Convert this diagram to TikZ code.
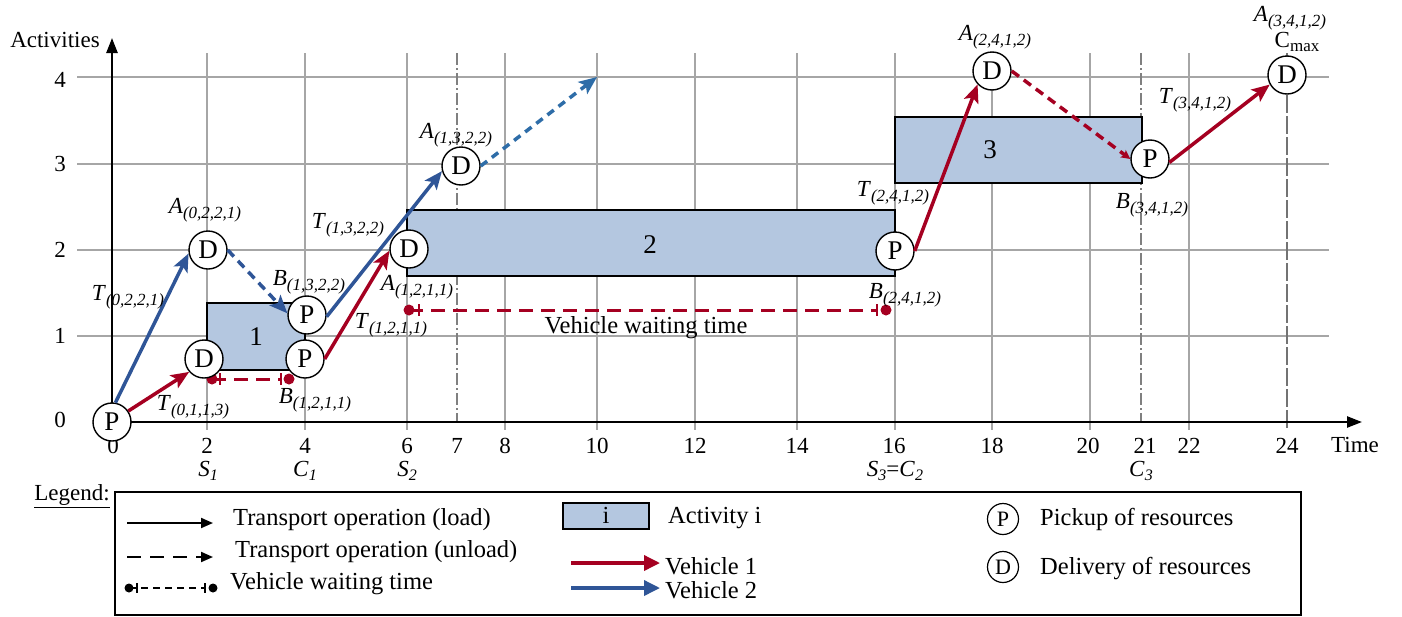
\documentclass[tikz,border=0pt]{standalone}
\usepackage{fontspec}
\setmainfont{Liberation Serif}
\usetikzlibrary{arrows.meta}
\definecolor{vred}{HTML}{A50021}
\definecolor{vblue}{HTML}{2F5597}
\definecolor{lblue}{HTML}{2E6DA8}
\definecolor{boxfill}{HTML}{B4C7E0}
\definecolor{gridgray}{HTML}{A6A6A6}
\newcommand\fs[1]{\fontsize{#1}{#1}\selectfont}
\newcommand\lbl[2]{\textit{#1}\raisebox{-5pt}{\fs{17}\itshape #2}}
\newcommand\sbl[2]{\textit{#1}\raisebox{-4pt}{\fs{16}\itshape #2}}
\begin{document}
\begin{tikzpicture}[x=1pt,y=-1pt,
  gridline/.style={draw=gridgray,line width=1.3pt},
  dashdotline/.style={draw=gray,line width=1.2pt,dash pattern=on 12pt off 3pt on 2pt off 3pt},
  cmaxline/.style={draw=gray!90!black,line width=2pt,dash pattern=on 18pt off 3pt},
  axisline/.style={draw=black,line width=2.4pt,-{Triangle[length=15pt,width=11pt]}},
  actbox/.style={draw=black,line width=1.4pt,fill=boxfill},
  pd/.style={circle,draw=black,line width=1.4pt,fill=white,minimum size=38pt,inner sep=0pt,font=\fs{27}},
  legpd/.style={circle,draw=black,line width=1.2pt,fill=white,minimum size=31pt,inner sep=0pt,font=\fs{22}},
  txt/.style={inner sep=0pt,font=\fs{23}},
  legtxt/.style={inner sep=0pt,font=\fs{24.5},anchor=west},
  redarrow/.style={draw=vred,line width=3.5pt,-{Stealth[length=18pt,width=15pt,inset=4pt]}},
  bluearrow/.style={draw=vblue,line width=3.5pt,-{Stealth[length=18pt,width=15pt,inset=4pt]}},
  bluedash/.style={draw=vblue,line width=3.5pt,dash pattern=on 9pt off 6pt,-{Stealth[length=18pt,width=15pt,inset=4pt]}},
  bluedot/.style={draw=lblue,line width=3.5pt,dash pattern=on 8pt off 6pt,-{Stealth[length=18pt,width=15pt,inset=4pt]}},
  reddash/.style={draw=vred,line width=3.5pt,dash pattern=on 9pt off 6pt,-{Stealth[length=9pt,width=9pt,inset=2pt]}},
  waitdash/.style={draw=vred,line width=3pt,dash pattern=on 14pt off 8pt},
  waitbar/.style={draw=vred,line width=2.5pt},
  legarrow/.style={draw=black,line width=2pt,-{Triangle[length=12pt,width=10pt]}},
  legdash/.style={draw=black,line width=2pt,dash pattern=on 14pt off 9pt,-{Triangle[length=12pt,width=10pt]}},
  legwait/.style={draw=black,line width=1.6pt,dash pattern=on 7pt off 5pt},
  legred/.style={draw=vred,line width=3.5pt,-{Triangle[length=16pt,width=15pt]}},
  legblue/.style={draw=vblue,line width=3.5pt,-{Triangle[length=16pt,width=15pt]}}
]
\useasboundingbox (0,0) rectangle (1402,616);
\fill[white] (0,0) rectangle (1402,616);

% grid
\foreach \x in {207,305,407,505,597,695,797,895,992,1090,1189}
  \draw[gridline] (\x,53) -- (\x,430);
\foreach \y in {77,164,250,336}
  \draw[gridline] (77,\y) -- (1329,\y);
\foreach \x in {457,1141}
  \draw[dashdotline] (\x,53) -- (\x,422);
\draw[cmaxline] (1287,53) -- (1287,430);

% activity boxes
\draw[actbox] (207,303) rectangle (305,370);
\draw[actbox] (407,210) rectangle (895,276);
\draw[actbox] (895,117) rectangle (1142,183);
\node[txt,font=\fs{27}] (n1) at (256,337) {1};
\node[txt,font=\fs{27}] (n2) at (650,245) {2};
\node[txt,font=\fs{27}] (n3) at (990,150) {3};

% axes
\draw[axisline] (112,422) -- (1362,422);
\draw[axisline] (112,432) -- (112,38);
\node[txt] (act) at (55,40) {Activities};
\node[txt] (time) at (1355,445) {Time};
\foreach \v/\y in {0/420,1/336,2/250,3/164,4/80}
  \node[txt] (ty\v) at (60,\y) {\v};
\foreach \t/\x in {0/113,2/207,4/305,6/407,7/457,8/505,10/597,12/695,14/797,16/894,18/992,20/1088,21/1145,22/1189,24/1287}
  \node[txt] (tx\t) at (\x,446) {\t};
\node[txt] (s1) at (208,471) {\sbl{S}{1}};
\node[txt] (c1) at (305,471) {\sbl{C}{1}};
\node[txt] (s2) at (407,471) {\sbl{S}{2}};
\node[txt] (s3) at (895,471) {\sbl{S}{3}=\sbl{C}{2}};
\node[txt] (c3) at (1141,471) {\sbl{C}{3}};

% waiting lines
\coordinate (w1a) at (212,379); \coordinate (w1b) at (289,379);
\draw[waitdash] (w1a) -- ([xshift=-8pt]w1b);
\draw[waitbar] ([xshift=8pt,yshift=6pt]w1a) -- ([xshift=8pt,yshift=-6pt]w1a);
\draw[waitbar] ([xshift=-8pt,yshift=6pt]w1b) -- ([xshift=-8pt,yshift=-6pt]w1b);
\fill[vred] (w1a) circle (5.5pt) (w1b) circle (5.5pt);
\coordinate (w2a) at (409,310); \coordinate (w2b) at (886,310);
\draw[waitdash] (w2a) -- ([xshift=-9pt]w2b);
\draw[waitbar] ([xshift=10pt,yshift=6pt]w2a) -- ([xshift=10pt,yshift=-6pt]w2a);
\draw[waitbar] ([xshift=-9pt,yshift=6pt]w2b) -- ([xshift=-9pt,yshift=-6pt]w2b);
\fill[vred] (w2a) circle (5.5pt) (w2b) circle (5.5pt);
\node[txt,font=\fs{24.5}] (vwt) at (646,328) {Vehicle waiting time};

% P / D nodes
\node[pd] (P0) at (112,422) {P};
\node[pd] (D1) at (204,359) {D};
\node[pd] (P1) at (305,359) {P};
\node[pd] (D2) at (208,250) {D};
\node[pd] (P2) at (307,315) {P};
\node[pd] (D3) at (409,249) {D};
\node[pd] (D4) at (461,166) {D};
\node[pd] (P5) at (895,251) {P};
\node[pd] (D6) at (992,71) {D};
\node[pd] (P7) at (1150,159) {P};
\node[pd] (D8) at (1287,75) {D};
\coordinate (end10) at (597,77);

% connectors
\draw[redarrow] (P0.34) -- (D1.221);
\draw[bluearrow] (P0.80) -- (D2.190);
\draw[bluedash] (D2.east) -- (P2.175);
\draw[redarrow] (P1.east) -- (D3.185);
\draw[bluearrow] (P2.-5) -- (D4.195);
\draw[bluedot] (D4.east) -- (end10);
\draw[redarrow] (P5.east) -- (D6.223);
\draw[reddash] (D6.east) -- (P7.west);
\draw[redarrow] (P7.-10) -- (D8.209);

% labels
\node[txt] (lA0221) at (205,210) {\lbl{A}{(0,2,2,1)}};
\node[txt] (lT0221) at (128,297) {\lbl{T}{(0,2,2,1)}};
\node[txt] (lT0113) at (193,407) {\lbl{T}{(0,1,1,3)}};
\node[txt] (lB1322) at (309,282) {\lbl{B}{(1,3,2,2)}};
\node[txt] (lB1211) at (315,400) {\lbl{B}{(1,2,1,1)}};
\node[txt] (lT1322) at (348,225) {\lbl{T}{(1,3,2,2)}};
\node[txt] (lA1211) at (417,287) {\lbl{A}{(1,2,1,1)}};
\node[txt] (lT1211) at (391,325) {\lbl{T}{(1,2,1,1)}};
\node[txt] (lA1322) at (456,135) {\lbl{A}{(1,3,2,2)}};
\node[txt] (lT2412) at (893,193) {\lbl{T}{(2,4,1,2)}};
\node[txt] (lB2412) at (905,295) {\lbl{B}{(2,4,1,2)}};
\node[txt] (lA2412) at (995,37) {\lbl{A}{(2,4,1,2)}};
\node[txt] (lT3412) at (1195,100) {\lbl{T}{(3,4,1,2)}};
\node[txt] (lB3412) at (1152,205) {\lbl{B}{(3,4,1,2)}};
\node[txt] (lA3412) at (1290,18) {\lbl{A}{(3,4,1,2)}};
\node[txt] (lCmax) at (1297,42) {C\raisebox{-4pt}{\fs{17}max}};

% legend
\node[txt,anchor=east,font=\fs{23}] (legend) at (110,496) {\underline{Legend:}};
\draw[line width=1.3pt] (115,492) rectangle (1301,615);
\coordinate (la1) at (127,523); \coordinate (lb1) at (213,523);
\draw[legarrow] (la1) -- (lb1);
\node[legtxt] (lt1) at (233,520) {Transport operation (load)};
\coordinate (la2) at (127,557); \coordinate (lb2) at (213,557);
\draw[legdash] (la2) -- (lb2);
\node[legtxt] (lt2) at (235,552) {Transport operation (unload)};
\coordinate (la3) at (129,588); \coordinate (lb3) at (213,588);
\draw[legwait] (la3) -- ([xshift=-8pt]lb3);
\draw[line width=1.6pt] ([xshift=8pt,yshift=5pt]la3) -- ([xshift=8pt,yshift=-5pt]la3);
\draw[line width=1.6pt] ([xshift=-8pt,yshift=5pt]lb3) -- ([xshift=-8pt,yshift=-5pt]lb3);
\fill (la3) circle (4.5pt) (lb3) circle (4.5pt);
\node[legtxt] (lt3) at (230,584) {Vehicle waiting time};
\draw[actbox,line width=1.2pt] (563,503) rectangle (649,529);
\node[txt,font=\fs{24.5}] (li) at (606,515) {i};
\node[legtxt] (lt4) at (668,518) {Activity i};
\coordinate (la5) at (571,563); \coordinate (lb5) at (660,563);
\draw[legred] (la5) -- (lb5);
\node[legtxt] (lt5) at (665,566) {Vehicle 1};
\coordinate (la6) at (571,588); \coordinate (lb6) at (660,588);
\draw[legblue] (la6) -- (lb6);
\node[legtxt] (lt6) at (665,590) {Vehicle 2};
\node[legpd] (lP) at (1003,519) {P};
\node[legtxt] (lt7) at (1040,519) {Pickup of resources};
\node[legpd] (lD) at (1003,567) {D};
\node[legtxt] (lt8) at (1040,569) {Delivery of resources};
\end{tikzpicture}
\end{document}
